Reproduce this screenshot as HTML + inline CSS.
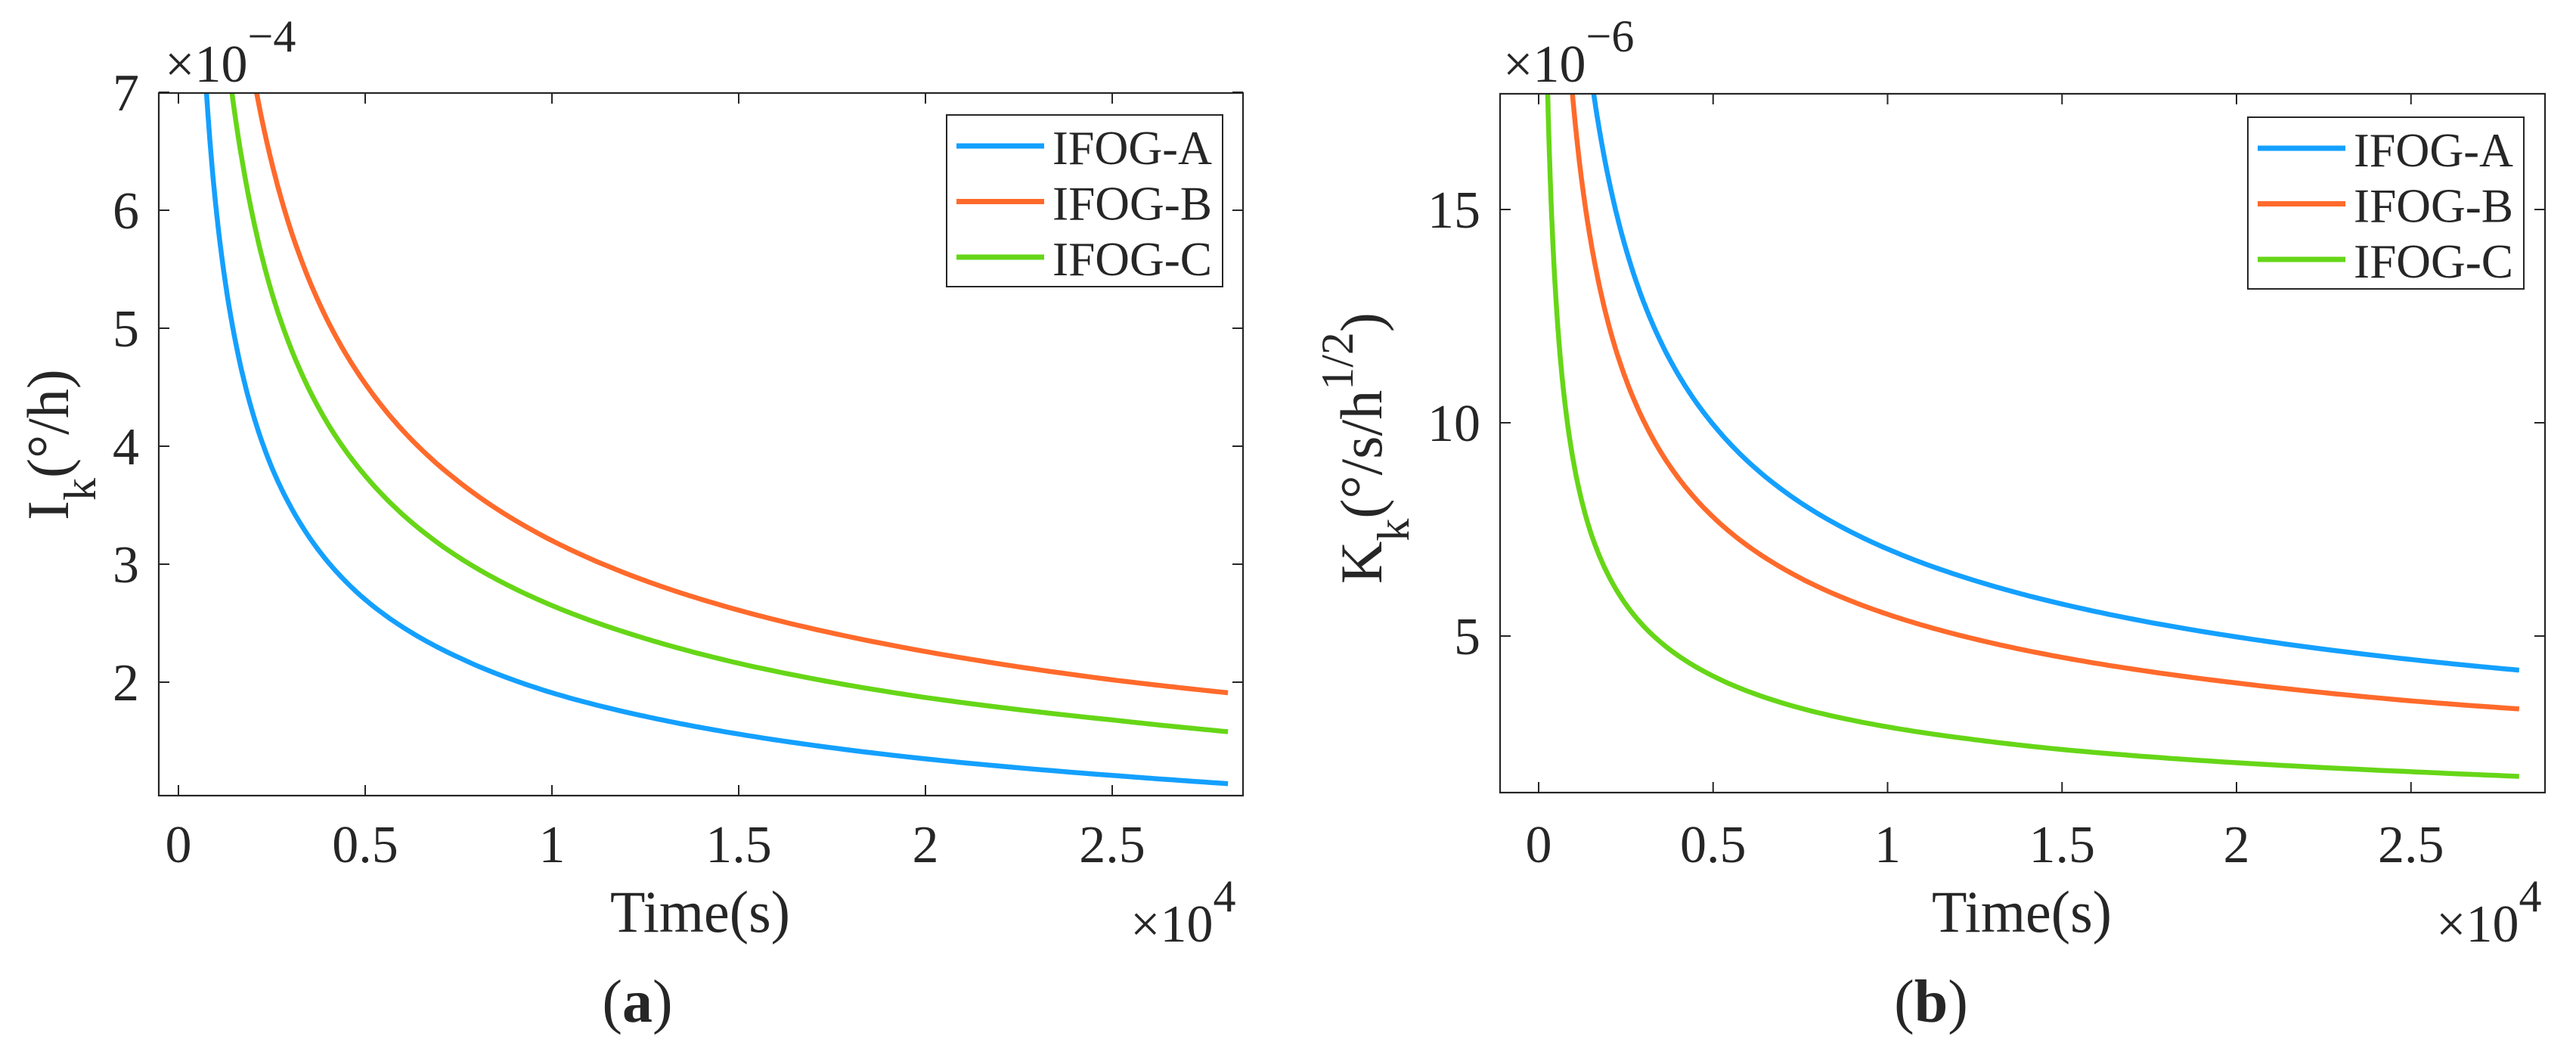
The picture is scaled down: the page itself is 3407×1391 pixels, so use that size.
<!DOCTYPE html>
<html><head><meta charset="utf-8"><style>
html,body{margin:0;padding:0;background:#fff;}
svg{display:block;}
svg text, svg tspan{font-family:'Liberation Serif', serif !important;fill:#262626;}
</style></head><body>
<svg id="fig" width="3407" height="1391" viewBox="0 0 3407 1391" xmlns="http://www.w3.org/2000/svg"></svg>
<script>
// ---- data (x in units of 1e4 s) ----
const seriesNames = ["IFOG-A","IFOG-B","IFOG-C"];
const colors = ["#14a0ff","#ff6a2b","#66d617"];
// Panel (a): I_k (x1e-4 °/h)
const aA_x = [0.075,0.09,0.1,0.125,0.15,0.2,0.25,0.3,0.4,0.5,0.75,1,1.25,1.5,2,2.5,2.81];
const aA_y = [7.0,6.37,6.04,5.4,4.93,4.27,3.82,3.49,3.02,2.7,2.21,1.91,1.71,1.56,1.35,1.21,1.14];
const aB_x = [0.209,0.25,0.3,0.4,0.5,0.75,1,1.25,1.5,2,2.5,2.81];
const aB_y = [7.0,6.4,5.84,5.06,4.53,3.7,3.2,2.86,2.61,2.26,2.02,1.91];
const aC_x = [0.143,0.17,0.2,0.25,0.3,0.4,0.5,0.75,1,1.25,1.5,2,2.5,2.81];
const aC_y = [7.0,6.43,5.93,5.3,4.84,4.19,3.75,3.06,2.65,2.37,2.16,1.87,1.68,1.58];
// Panel (b): K_k (x1e-6 °/s/h^1/2)
const bA_x = [0.158,0.2,0.25,0.3,0.4,0.5,0.75,1,1.25,1.5,2,2.5,2.81];
const bA_y = [17.7,15.74,14.08,12.85,11.13,9.96,8.13,7.04,6.3,5.75,4.98,4.45,4.2];
const bB_x = [0.097,0.12,0.15,0.2,0.3,0.4,0.5,0.75,1,1.25,1.5,2,2.5,2.81];
const bB_y = [17.7,15.9,14.23,12.32,10.06,8.71,7.79,6.36,5.51,4.93,4.5,3.9,3.48,3.29];
const bC_x = [0.026,0.035,0.05,0.07,0.1,0.15,0.2,0.3,0.4,0.5,0.75,1,1.25,1.5,2,2.5,2.81];
const bC_y = [17.7,15.34,12.84,10.85,9.08,7.41,6.42,5.24,4.54,4.06,3.31,2.87,2.57,2.34,2.03,1.82,1.71];
const xTicks = [0,0.5,1,1.5,2,2.5];
const xTickLabels = ["0","0.5","1","1.5","2","2.5"];
const aYTicks = [2,3,4,5,6,7];
const bYTicks = [5,10,15];

const NS="http://www.w3.org/2000/svg";
const svg=document.getElementById('fig');
function mk(tag,attrs,parent){const e=document.createElementNS(NS,tag);for(const k in attrs)e.setAttribute(k,attrs[k]);if(tag==='text'){e.style.fontFamily="'Liberation Serif', serif";}(parent||svg).appendChild(e);return e;}

// dense path through data points, interpolated in log-log space (drawing only)
function curvePath(xs,ys,X,Y){
  let d="";
  for(let i=0;i<xs.length-1;i++){
    const lx0=Math.log(xs[i]),lx1=Math.log(xs[i+1]),ly0=Math.log(ys[i]),ly1=Math.log(ys[i+1]);
    for(let k=(i===0?0:1);k<=20;k++){
      const t=k/20;
      const xv=Math.exp(lx0+(lx1-lx0)*t),yv=Math.exp(ly0+(ly1-ly0)*t);
      d+=(d?"L":"M")+X(xv).toFixed(1)+","+Y(yv).toFixed(1);
    }
  }
  return d;
}

function panel(cfg){
  const g=mk('g',{});
  
  
  const L=cfg.left,R=cfg.right,T=cfg.top,B=cfg.bottom;
  const X=v=>cfg.x0px+v*cfg.xUnit;
  const Y=v=>cfg.yRefPx-(v-cfg.yRef)*cfg.yUnit;
  const clip=mk('clipPath',{id:'clip-'+cfg.name},g);
  mk('rect',{x:L,y:T,width:R-L,height:B-T},clip);
  cfg.series.forEach((s,i)=>{
    const p=mk('path',{d:curvePath(s[0],s[1],X,Y),fill:'none',stroke:colors[i],'stroke-width':6.5,'stroke-linejoin':'round','clip-path':'url(#clip-'+cfg.name+')'},g);
    
    
  });
  const box=mk('rect',{x:L,y:T,width:R-L,height:B-T,fill:'none',stroke:'#262626','stroke-width':2.2},g);
  
  
  xTicks.forEach((t,i)=>{
    const x=X(t);
    mk('line',{x1:x,y1:B,x2:x,y2:B-14,stroke:'#262626','stroke-width':2},g);
    mk('line',{x1:x,y1:T,x2:x,y2:T+14,stroke:'#262626','stroke-width':2},g);
    const tx=mk('text',{x:x,y:1140,'font-size':70,'text-anchor':'middle'},g);
    tx.textContent=xTickLabels[i];
    
    
  });
  cfg.yTicks.forEach(t=>{
    const y=Y(t);
    mk('line',{x1:L,y1:y,x2:L+14,y2:y,stroke:'#262626','stroke-width':2},g);
    mk('line',{x1:R,y1:y,x2:R-14,y2:y,stroke:'#262626','stroke-width':2},g);
    const tx=mk('text',{x:cfg.yLabelRight,y:y+24,'font-size':70,'text-anchor':'end'},g);
    tx.textContent=String(t);
    
    
  });
  const lg=mk('g',{},g);
  
  
  mk('rect',{x:cfg.legX,y:cfg.legY,width:365,height:227,fill:'#fff',stroke:'#262626','stroke-width':2},lg);
  seriesNames.forEach((n,i)=>{
    const yy=cfg.legY+41+i*73.5;
    const ent=mk('g',{},lg);
    
    
    mk('line',{x1:cfg.legX+13,y1:yy,x2:cfg.legX+129,y2:yy,stroke:colors[i],'stroke-width':7},ent);
    const tx=mk('text',{x:cfg.legX+140,y:yy+24,'font-size':63,textLength:211,lengthAdjust:'spacingAndGlyphs'},ent);
    tx.textContent=n;
  });
  return g;
}

panel({name:'panel-a',left:210,right:1644,top:123,bottom:1052,x0px:236,xUnit:494,yRef:5,yRefPx:434,yUnit:156,
  yTicks:aYTicks,yLabelRight:184,legX:1252,legY:152,
  series:[[aA_x,aA_y],[aB_x,aB_y],[aC_x,aC_y]]});
panel({name:'panel-b',left:1984,right:3366,top:124,bottom:1048,x0px:2035,xUnit:461.5,yRef:10,yRefPx:559,yUnit:56.4,
  yTicks:bYTicks,yLabelRight:1958,legX:2973,legY:155,
  series:[[bA_x,bA_y],[bB_x,bB_y],[bC_x,bC_y]]});
</script>
<svg style="position:absolute;left:0;top:0" width="3407" height="1391" xmlns="http://www.w3.org/2000/svg">
  <text x="218" y="108" font-size="70">×10<tspan dy="-40" font-size="60">−4</tspan></text>
  <text transform="translate(90,688) rotate(-90)" font-size="78">I<tspan dy="36" font-size="60">k</tspan><tspan dy="-36">(°/h)</tspan></text>
  <text x="926" y="1232" font-size="78" text-anchor="middle" textLength="238" lengthAdjust="spacingAndGlyphs">Time(s)</text>
  <text x="1495" y="1245" font-size="70">×10<tspan dy="-40" font-size="60">4</tspan></text>
  <text x="843" y="1351" font-size="80" text-anchor="middle">(<tspan font-weight="bold">a</tspan>)</text>
  <text x="1988" y="108" font-size="70">×10<tspan dy="-40" font-size="60">−6</tspan></text>
  <text transform="translate(1827,772) rotate(-90)" font-size="78">K<tspan dy="36" font-size="60">k</tspan><tspan dy="-36">(°/s/h</tspan><tspan dy="-38" font-size="60">1/2</tspan><tspan dy="38">)</tspan></text>
  <text x="2674" y="1232" font-size="78" text-anchor="middle" textLength="238" lengthAdjust="spacingAndGlyphs">Time(s)</text>
  <text x="3222" y="1245" font-size="70">×10<tspan dy="-40" font-size="60">4</tspan></text>
  <text x="2554" y="1351" font-size="80" text-anchor="middle">(<tspan font-weight="bold">b</tspan>)</text>
</svg>
</body></html>
